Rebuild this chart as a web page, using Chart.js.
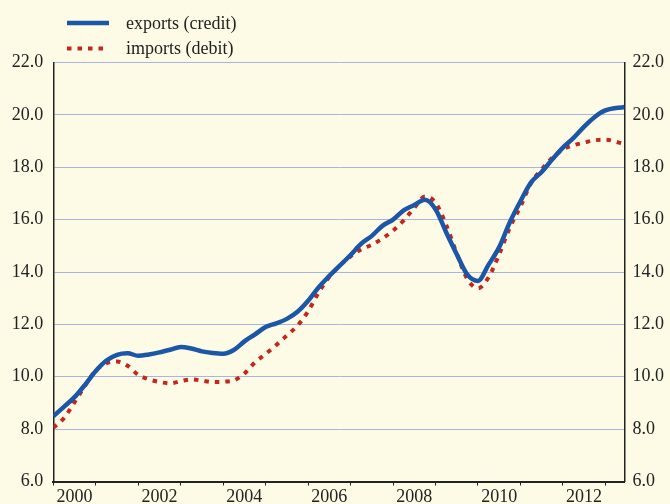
<!DOCTYPE html>
<html>
<head>
<meta charset="utf-8">
<script src="https://cdn.jsdelivr.net/npm/chart.js@4.4.1/dist/chart.umd.min.js"></script>
<style>
    html, body { margin: 0; padding: 0; background: #fdfbe6; }
    #wrap { width: 670px; height: 504px; }
</style>
</head>
<body>
<div id="wrap"><canvas id="tradeChart" width="670" height="504"></canvas></div>
<script>
// Quarterly observations, 2000Q1 .. 2013Q2 (decimal year of each point)
const obsDates = [];
for (let i = 0; i < 53; i++) obsDates.push(2000 + i * 0.25);
obsDates.push(2013.45);

const exportsCredit = [
    8.49, 8.85, 9.22, 9.70, 10.22, 10.62, 10.84, 10.90,
    10.80, 10.85, 10.93, 11.03, 11.14, 11.08, 10.97, 10.91,
    10.88, 11.02, 11.35, 11.62, 11.90, 12.04, 12.21, 12.48,
    12.90, 13.42, 13.85, 14.25, 14.65, 15.08, 15.38, 15.76,
    16.00, 16.35, 16.56, 16.76, 16.40, 15.52, 14.68, 13.90,
    13.66, 14.28, 14.95, 15.90, 16.70, 17.42, 17.82, 18.30,
    18.75, 19.12, 19.55, 19.92, 20.17, 20.30, 20.35
];
const importsDebit = [
    8.05, 8.42, 9.03, 9.66, 10.24, 10.52, 10.58, 10.42,
    10.07, 9.90, 9.80, 9.75, 9.83, 9.90, 9.85, 9.80,
    9.81, 9.86, 10.12, 10.55, 10.87, 11.21, 11.58, 11.95,
    12.50, 13.22, 13.82, 14.25, 14.60, 14.86, 15.04, 15.28,
    15.58, 15.97, 16.45, 16.88, 16.65, 15.80, 14.70, 13.73,
    13.38, 13.80, 14.68, 15.70, 16.50, 17.40, 17.92, 18.36,
    18.68, 18.84, 18.94, 19.03, 19.05, 18.88, 18.70
];
const seriesNames = ['exports (credit)', 'imports (debit)'];
const yearTicks = [2000, 2001, 2002, 2003, 2004, 2005, 2006, 2007, 2008, 2009, 2010, 2011, 2012, 2013];

const FONT = "'Liberation Serif', 'Times New Roman', serif";
const INK = '#222';
const BLUE = '#1c56a6';
const RED = '#c3261d';
const DOTS = [4.5, 6];

const toPoints = vals => vals.map((v, i) => ({ x: obsDates[i], y: v }));

// page background behind the chart
const paperBg = {
    id: 'paperBg',
    beforeDraw(chart) {
        const ctx = chart.ctx;
        ctx.save();
        ctx.fillStyle = '#fdfbe6';
        ctx.fillRect(0, 0, chart.width, chart.height);
        ctx.restore();
    }
};

// stacked legend in the top-left corner
const cornerLegend = {
    id: 'cornerLegend',
    afterDraw(chart) {
        const ctx = chart.ctx;
        ctx.save();
        chart.data.datasets.forEach((ds, i) => {
            const y = 23 + i * 25.5;
            ctx.beginPath();
            ctx.strokeStyle = ds.borderColor;
            ctx.lineWidth = ds.borderWidth;
            ctx.setLineDash(ds.borderDash || []);
            ctx.lineCap = 'butt';
            ctx.moveTo(67, y);
            ctx.lineTo(109, y);
            ctx.stroke();
            ctx.setLineDash([]);
            ctx.fillStyle = INK;
            ctx.font = '18px ' + FONT;
            ctx.textBaseline = 'middle';
            ctx.fillText(ds.label, 126, y + 1);
        });
        ctx.restore();
    }
};

new Chart(document.getElementById('tradeChart'), {
    type: 'line',
    data: {
        datasets: [
            {
                label: seriesNames[0],
                data: toPoints(exportsCredit),
                borderColor: BLUE,
                borderWidth: 4.5,
                pointRadius: 0,
                cubicInterpolationMode: 'monotone',
                order: 1
            },
            {
                label: seriesNames[1],
                data: toPoints(importsDebit),
                borderColor: RED,
                borderWidth: 4,
                borderDash: DOTS,
                pointRadius: 0,
                cubicInterpolationMode: 'monotone',
                order: 2
            }
        ]
    },
    options: {
        responsive: false,
        animation: false,
        layout: { padding: { top: 62.5, left: 0, right: 0, bottom: 0 } },
        plugins: {
            legend: { display: false },
            tooltip: { enabled: false }
        },
        scales: {
            x: {
                type: 'linear',
                min: 2000,
                max: 2013.45,
                afterBuildTicks: scale => {
                    scale.ticks = yearTicks.map(v => ({ value: v }));
                },
                afterFit: scale => { scale.height = 22.5; },
                grid: {
                    drawOnChartArea: false,
                    drawTicks: true,
                    tickLength: 4,
                    color: INK,
                    lineWidth: 1
                },
                border: { display: true, color: INK, width: 2 },
                ticks: {
                    autoSkip: false,
                    maxRotation: 0,
                    padding: 1,
                    labelOffset: 21.2,
                    color: INK,
                    font: { family: FONT, size: 18 },
                    callback: v => (v % 2 === 0 && v < 2013) ? String(v) : ''
                }
            },
            y: {
                position: 'left',
                min: 6,
                max: 22,
                afterFit: scale => { scale.width = 53.3; },
                grid: { color: '#aab5df', lineWidth: 1, drawTicks: false },
                border: { display: true, color: INK, width: 1.5 },
                ticks: {
                    stepSize: 2,
                    padding: 10,
                    color: INK,
                    font: { family: FONT, size: 18 },
                    callback: v => v.toFixed(1)
                }
            },
            y2: {
                position: 'right',
                min: 6,
                max: 22,
                afterFit: scale => { scale.width = 45.5; },
                grid: { display: false, drawTicks: false },
                border: { display: true, color: INK, width: 1.5 },
                ticks: {
                    stepSize: 2,
                    padding: 8,
                    color: INK,
                    font: { family: FONT, size: 18 },
                    callback: v => v.toFixed(1)
                }
            }
        }
    },
    plugins: [paperBg, cornerLegend]
});
</script>
</body>
</html>
